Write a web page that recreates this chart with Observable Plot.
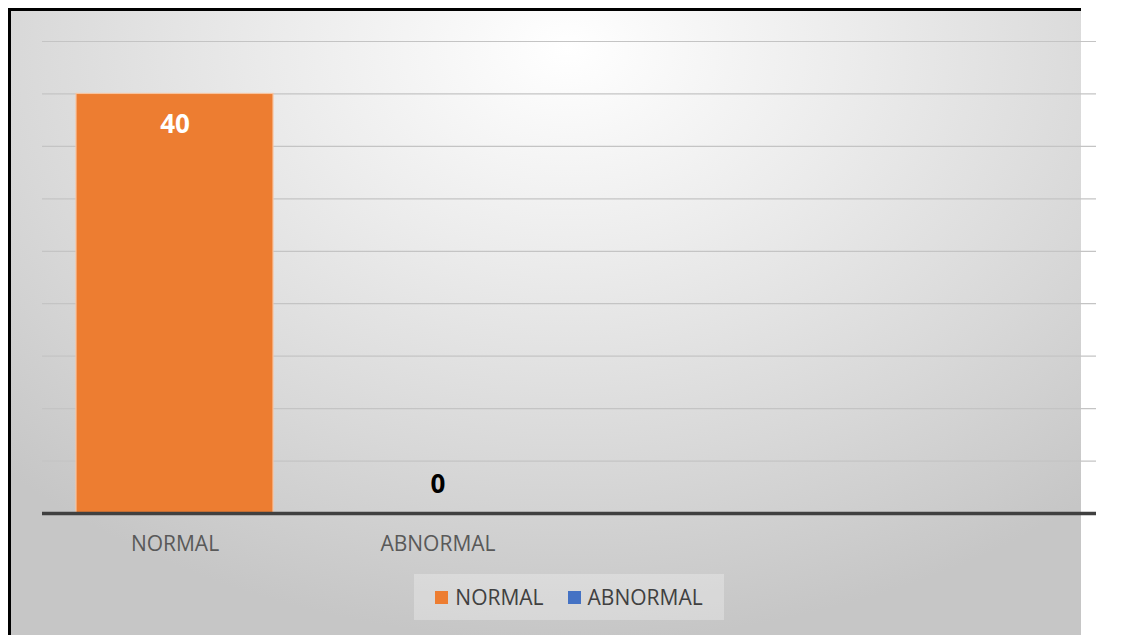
<!DOCTYPE html>
<html>
<head>
<meta charset="utf-8">
<script src="https://cdn.jsdelivr.net/npm/d3@7"></script>
<script src="https://cdn.jsdelivr.net/npm/@observablehq/plot@0.6"></script>
<style>
  html, body { margin: 0; padding: 0; background: #ffffff; overflow: hidden; }
  #frame {
    position: absolute; left: 8px; top: 8px; right: 40px; bottom: 0;
    border-top: 3px solid #000; border-left: 3px solid #000;
    background: radial-gradient(ellipse 75% 95% at 52% 6%, #ffffff 0%, #ececec 35%, #d8d8d8 70%, #c6c6c6 100%);
  }
  #chart { position: absolute; left: 0; top: 0; width: 1121px; height: 560px; }
  #legend {
    position: absolute; left: 414px; top: 574px; width: 310px; height: 46px;
    background: rgba(255,255,255,0.28);
    display: flex; align-items: center; justify-content: center;
  }
  #legend span { margin-right: 24px !important; }
  #legend span:last-child { margin-right: 0 !important; }
  #legend span svg { margin-right: 7px !important; }
</style>
</head>
<body>
<div id="frame"></div>
<div id="chart"></div>
<div id="legend"></div>
<script>
// Category names, their counts and series colours
const categories = ["NORMAL", "ABNORMAL"];
const counts = [40, 0];
const colors = ["#ED7D31", "#4472C4"];
const gridTicks = [5, 10, 15, 20, 25, 30, 35, 40, 45];

const rows = categories.map((c, i) => ({category: c, count: counts[i]}));

const W = 1121, H = 560;
const mL = 42, mR = 25, mT = 41, mB = 47;
const plotW = W - mL - mR;
// the category axis holds four equal slots; the two used ones fill the left half
const slots = 4;

const font = "'Open Sans', 'Liberation Sans', sans-serif";

const chart = Plot.plot({
  width: W,
  height: H,
  marginLeft: mL,
  marginRight: mR,
  marginTop: mT,
  marginBottom: mB,
  style: {background: "transparent", fontFamily: font},
  x: {
    domain: categories,
    range: [mL, mL + plotW * categories.length / slots],
    paddingInner: 0.2524,
    paddingOuter: 0.1262,
    axis: null,
    label: null
  },
  y: {domain: [0, 45], axis: null},
  color: {domain: categories, range: colors},
  marks: [
    Plot.ruleY(gridTicks, {stroke: "#c4c4c4", strokeWidth: 1.2}),
    Plot.barY(rows, {x: "category", y: "count", fill: "category", stroke: "#f7c4a0", strokeWidth: 1.2}),
    Plot.ruleY([0], {stroke: "#404040", strokeWidth: 3.5}),
    Plot.axisX({tickSize: 0, tickPadding: 23, fontSize: 21, fill: "#595959", fontFamily: font, label: null}),
    Plot.text(rows.filter(d => d.count > 0), {
      x: "category", y: "count", text: d => String(d.count),
      dy: 31, fill: "#ffffff", fontSize: 26, fontWeight: "bold", fontFamily: font
    }),
    Plot.text(rows.filter(d => d.count === 0), {
      x: "category", y: "count", text: d => String(d.count),
      dy: -29, fill: "#000000", fontSize: 26, fontWeight: "bold", fontFamily: font
    })
  ]
});

document.getElementById("chart").appendChild(chart);

const legend = Plot.legend({
  color: {type: "ordinal", domain: categories, range: colors},
  swatchSize: 13,
  style: {fontFamily: font, fontSize: "21px", color: "#404040", background: "transparent", margin: "0"}
});
document.getElementById("legend").appendChild(legend);
</script>
</body>
</html>
